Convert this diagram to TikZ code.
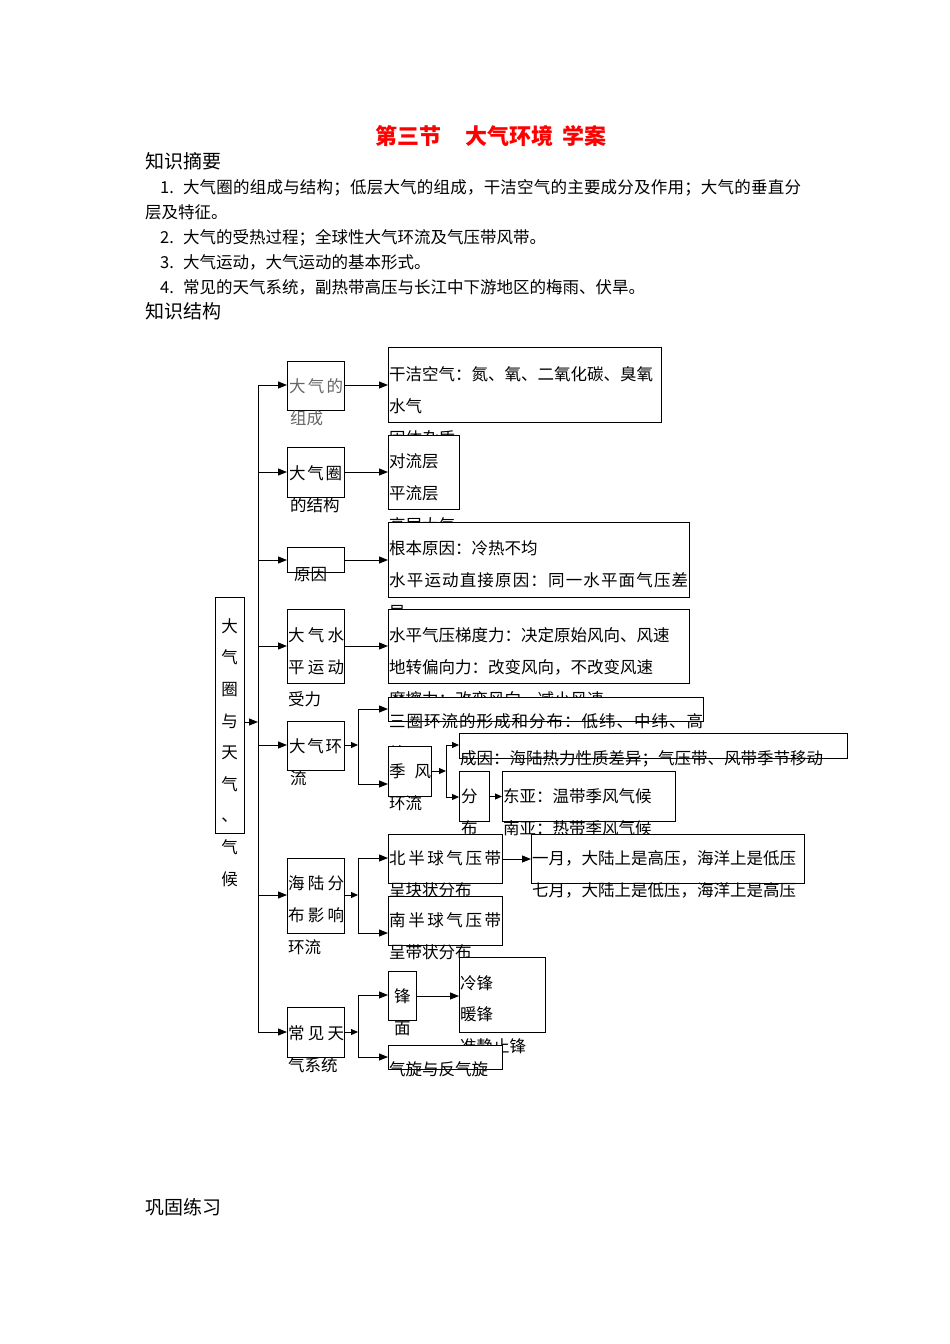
\documentclass[tikz,border=0pt]{standalone}
\usepackage{fontspec}
\setmainfont{Noto Sans CJK SC}
\usetikzlibrary{arrows.meta}

\def\sprd#1#2{\hbox to #1{\sprdloop#2\relax}}
\def\sprdloop#1#2{#1\ifx\relax#2\else\hfill\expandafter\sprdloop\expandafter#2\fi}

\begin{document}
\begin{tikzpicture}[x=1pt,y=-1pt,
  box/.style={draw, line width=1pt, fill=white, anchor=north west, inner sep=0pt},
  txt/.style={anchor=west, inner sep=0pt, yshift=-3.5pt, text height=.88em, text depth=.12em, font=\fontsize{16.5}{18}\selectfont},
  head/.style={txt, font=\fontsize{19}{22}\selectfont},
  arr/.style={line width=1pt, -{Triangle[length=9pt,width=7pt]}},
  sarr/.style={line width=1pt, -{Triangle[length=7pt,width=6pt]}},
  link/.style={line width=1pt}]
\useasboundingbox (0,0) rectangle (950,1344);

\node[txt, font=\bfseries\fontsize{22}{24}\selectfont, text=red] (title) at (375,137) {第三节\hspace{1.1em}大气环境\hspace{0.4em}学案};
\node[head] (sumhead) at (145,161) {知识摘要};
\node[txt] (sum1) at (160,186) {1.\hspace{0.55em}\sprd{618pt}{大气圈的组成与结构；低层大气的组成，干洁空气的主要成分及作用；大气的垂直分}};
\node[txt] (sum1b) at (145,211) {层及特征。};
\node[txt] (sum2) at (160,236) {2.\hspace{0.55em}大气的受热过程；全球性大气环流及气压带风带。};
\node[txt] (sum3) at (160,261) {3.\hspace{0.55em}大气运动，大气运动的基本形式。};
\node[txt] (sum4) at (160,286) {4.\hspace{0.55em}常见的天气系统，副热带高压与长江中下游地区的梅雨、伏旱。};
\node[head] (structhead) at (145,311) {知识结构};
\node[head] (practhead) at (145,1207) {巩固练习};

\node[box, minimum width=29pt, minimum height=236pt] (main) at (215,597) {};
\foreach \c [count=\i from 0] in {大,气,圈,与,天,气,、,气,候}
  \node[txt, anchor=center] (main\i) at (229.5,625+31.6*\i) {\c};

\node[box, minimum width=57pt, minimum height=49pt] (a2) at (287,361) {};
\node[txt, text=black!60] (a2t1) at (289,385) {\sprd{54pt}{大气的}};
\node[txt, text=black!60] (a2t2) at (290,417) {组成};
\node[box, minimum width=57pt, minimum height=50pt] (b2) at (287,447) {};
\node[txt] (b2t1) at (289,472) {\sprd{53pt}{大气圈}};
\node[txt] (b2t2) at (290,504) {的结构};
\node[box, minimum width=57pt, minimum height=25pt] (c2) at (287,547) {};
\node[txt] (c2t1) at (294,573) {原因};
\node[box, minimum width=57pt, minimum height=74pt] (d2) at (287,609) {};
\node[txt] (d2t1) at (288,634) {\sprd{56pt}{大气水}};
\node[txt] (d2t2) at (288,666) {\sprd{56pt}{平运动}};
\node[txt] (d2t3) at (288,698) {受力};
\node[box, minimum width=57pt, minimum height=49pt] (e2) at (287,721) {};
\node[txt] (e2t1) at (289,745) {\sprd{53pt}{大气环}};
\node[txt] (e2t2) at (290,777) {流};
\node[box, minimum width=57pt, minimum height=75pt] (f2) at (287,858) {};
\node[txt] (f2t1) at (288,882) {\sprd{56pt}{海陆分}};
\node[txt] (f2t2) at (288,914) {\sprd{56pt}{布影响}};
\node[txt] (f2t3) at (288,946) {环流};
\node[box, minimum width=57pt, minimum height=50pt] (g2) at (287,1007) {};
\node[txt] (g2t1) at (288,1032) {\sprd{56pt}{常见天}};
\node[txt] (g2t2) at (288,1064) {气系统};

\node[box, minimum width=273pt, minimum height=75pt] (a3) at (388,347) {};
\node[txt] (a3t1) at (389,373) {干洁空气：氮、氧、二氧化碳、臭氧};
\node[txt] (a3t2) at (389,405) {水气};
\node[txt] (a3t3) at (389,437) {固体杂质};
\node[box, minimum width=71pt, minimum height=74pt] (b3) at (388,435) {};
\node[txt] (b3t1) at (389,460) {对流层};
\node[txt] (b3t2) at (389,492) {平流层};
\node[txt] (b3t3) at (389,524) {高层大气};
\node[box, minimum width=301pt, minimum height=75pt] (c3) at (388,522) {};
\node[txt] (c3t1) at (389,547) {根本原因：冷热不均};
\node[txt] (c3t2) at (389,579) {\sprd{299pt}{水平运动直接原因：同一水平面气压差}};
\node[txt] (c3t3) at (389,611) {异};
\node[box, minimum width=301pt, minimum height=74pt] (d3) at (388,609) {};
\node[txt] (d3t1) at (389,634) {水平气压梯度力：决定原始风向、风速};
\node[txt] (d3t2) at (389,666) {地转偏向力：改变风向，不改变风速};
\node[txt] (d3t3) at (389,698) {摩擦力：改变风向，减小风速};

\node[box, minimum width=315pt, minimum height=24pt] (e3) at (388,697) {};
\node[txt] (e3t1) at (389,720) {\sprd{314pt}{三圈环流的形成和分布：低纬、中纬、高}};
\node[txt] (e3t2) at (389,752) {纬};
\node[box, minimum width=43pt, minimum height=50pt] (e4) at (388,746) {};
\node[txt] (e4t1) at (389,770) {\sprd{42pt}{季风}};
\node[txt] (e4t2) at (389,802) {环流};
\node[box, minimum width=388pt, minimum height=25pt] (e5) at (459,733) {};
\node[txt] (e5t1) at (460,757) {成因：海陆热力性质差异；气压带、风带季节移动};
\node[box, minimum width=30pt, minimum height=50pt] (e6) at (459,771) {};
\node[txt] (e6t1) at (461,795) {分};
\node[txt] (e6t2) at (461,827) {布};
\node[box, minimum width=173pt, minimum height=50pt] (e7) at (502,771) {};
\node[txt] (e7t1) at (503,795) {东亚：温带季风气候};
\node[txt] (e7t2) at (503,827) {南亚：热带季风气候};

\node[box, minimum width=114pt, minimum height=49pt] (f3) at (388,834) {};
\node[txt] (f3t1) at (389,857) {\sprd{112pt}{北半球气压带}};
\node[txt] (f3t2) at (389,889) {呈块状分布};
\node[box, minimum width=273pt, minimum height=49pt] (f4) at (531,834) {};
\node[txt] (f4t1) at (532,857) {一月，大陆上是高压，海洋上是低压};
\node[txt] (f4t2) at (532,889) {七月，大陆上是低压，海洋上是高压};
\node[box, minimum width=114pt, minimum height=49pt] (f5) at (388,896) {};
\node[txt] (f5t1) at (389,919) {\sprd{112pt}{南半球气压带}};
\node[txt] (f5t2) at (389,951) {呈带状分布};

\node[box, minimum width=28pt, minimum height=49pt] (g3) at (388,971) {};
\node[txt] (g3t1) at (394,995) {锋};
\node[txt] (g3t2) at (394,1027) {面};
\node[box, minimum width=86pt, minimum height=75pt] (g4) at (459,957) {};
\node[txt] (g4t1) at (460,982) {冷锋};
\node[txt] (g4t2) at (460,1013) {暖锋};
\node[txt] (g4t3) at (460,1045) {准静止锋};
\node[box, minimum width=114pt, minimum height=24pt] (g5) at (388,1045) {};
\node[txt] (g5t1) at (389,1068) {气旋与反气旋};

\coordinate (tkm) at (258,722);
\coordinate (tk1) at (258,385);
\coordinate (tk2) at (258,472);
\coordinate (tk3) at (258,560);
\coordinate (tk4) at (258,646);
\coordinate (tk5) at (258,745);
\coordinate (tk6) at (258,895);
\coordinate (tk7) at (258,1032);
\draw[link] (tk1) -- (tk7);
\draw[arr] (main.east |- tkm) -- (tkm);
\foreach \n/\b in {1/a2,2/b2,3/c2,4/d2,5/e2,6/f2,7/g2}
  \draw[arr] (tk\n) -- (tk\n -| \b.west);

\draw[arr] (a2.east |- tk1) -- (tk1 -| a3.west);
\draw[arr] (b2.east |- tk2) -- (tk2 -| b3.west);
\draw[arr] (c2.east |- tk3) -- (tk3 -| c3.west);
\draw[arr] (d2.east |- tk4) -- (tk4 -| d3.west);

\coordinate (fe) at (358,745);
\coordinate (fe1) at (358,709);
\coordinate (fe2) at (358,784);
\draw[sarr] (e2.east |- fe) -- (fe);
\draw[link] (fe1) -- (fe2);
\draw[arr] (fe1) -- (fe1 -| e3.west);
\draw[arr] (fe2) -- (fe2 -| e4.west);
\coordinate (fj) at (446,771);
\coordinate (fj1) at (446,745);
\coordinate (fj2) at (446,797);
\draw[sarr] (e4.east |- fj) -- (fj);
\draw[link] (fj1) -- (fj2);
\draw[sarr] (fj1) -- (fj1 -| e5.west);
\draw[sarr] (fj2) -- (fj2 -| e6.west);
\draw[sarr] (e6.east) -- (e6.east -| e7.west);

\coordinate (ff) at (358,895);
\coordinate (ff1) at (358,858);
\coordinate (ff2) at (358,933);
\draw[sarr] (f2.east |- ff) -- (ff);
\draw[link] (ff1) -- (ff2);
\draw[arr] (ff1) -- (ff1 -| f3.west);
\draw[arr] (ff2) -- (ff2 -| f5.west);
\draw[arr] (f3.east) -- (f3.east -| f4.west);

\coordinate (fg) at (358,1032);
\coordinate (fg1) at (358,995);
\coordinate (fg2) at (358,1057);
\draw[sarr] (g2.east |- fg) -- (fg);
\draw[link] (fg1) -- (fg2);
\draw[arr] (fg1) -- (fg1 -| g3.west);
\draw[arr] (fg2) -- (fg2 -| g5.west);
\draw[arr] (g3.east) -- (g3.east -| g4.west);
\end{tikzpicture}
\end{document}
